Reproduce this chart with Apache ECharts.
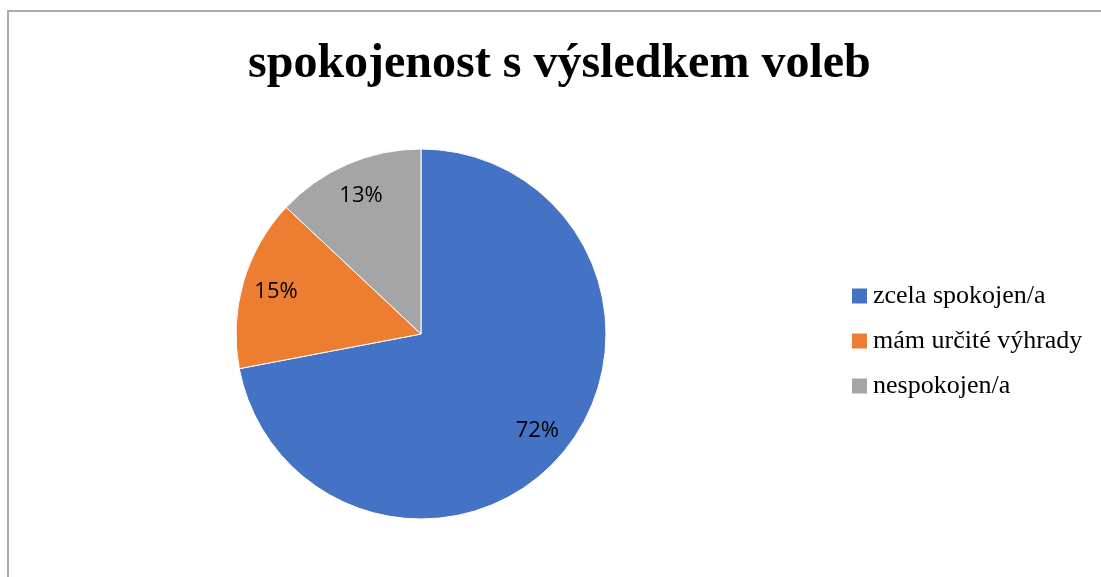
<!DOCTYPE html>
<html>
<head>
<meta charset="utf-8">
<script src="https://cdn.jsdelivr.net/npm/echarts@6/dist/echarts.min.js"></script>
<style>
  html, body { margin: 0; padding: 0; background: #fff; }
  #wrap { position: relative; width: 1101px; height: 577px; overflow: hidden; }
  #frame {
    position: absolute; left: 7px; top: 10px; width: 1200px; height: 700px;
    border-left: 2px solid #ababab; border-top: 2px solid #ababab;
  }
  #chart { position: absolute; left: 0; top: 0; width: 1101px; height: 577px; }
</style>
</head>
<body>
<div id="wrap">
  <div id="frame"></div>
  <div id="chart"></div>
</div>
<script>
// data
const categories = ['zcela spokojen/a', 'mám určité výhrady', 'nespokojen/a']
const values = [72, 15, 13]
const colors = ['#4472C4', '#ED7D31', '#A5A5A5']
const titleText = 'spokojenost s výsledkem voleb'

const chart = echarts.init(document.getElementById('chart'))

const pieData = categories.map((name, i) => ({
  name: name,
  value: values[i],
  itemStyle: { color: colors[i] }
}))

const option = {
  animation: false,
  title: {
    text: titleText,
    left: 243,
    top: 36,
    textStyle: {
      fontFamily: 'Liberation Serif',
      fontWeight: 'bold',
      fontSize: 48,
      color: '#000'
    }
  },
  legend: {
    orient: 'vertical',
    left: 845,
    top: 277,
    itemWidth: 17,
    itemHeight: 17,
    itemGap: 17,
    icon: 'rect',
    data: categories,
    textStyle: {
      fontFamily: 'Liberation Serif',
      fontSize: 26,
      color: '#000',
      lineHeight: 28
    }
  },
  series: [
    {
      name: 'main',
      type: 'pie',
      center: [421, 334],
      radius: [0, 185],
      startAngle: 90,
      clockwise: true,
      label: { show: false },
      labelLine: { show: false },
      itemStyle: { borderColor: '#fff', borderWidth: 1 },
      emphasis: { disabled: true },
      data: pieData
    },
    {
      // transparent ring only for placing the percentage labels
      name: 'labels',
      type: 'pie',
      center: [421, 334],
      radius: [111, 185],
      startAngle: 90,
      clockwise: true,
      silent: true,
      legendHoverLink: false,
      itemStyle: { color: 'rgba(0,0,0,0)', borderWidth: 0 },
      emphasis: { disabled: true },
      label: {
        show: true,
        position: 'inside',
        formatter: '{c}%',
        fontFamily: 'Open Sans',
        fontSize: 22,
        color: '#000'
      },
      labelLine: { show: false },
      data: categories.map((name, i) => ({ name: name, value: values[i] }))
    }
  ]
}

chart.setOption(option)
</script>
</body>
</html>
